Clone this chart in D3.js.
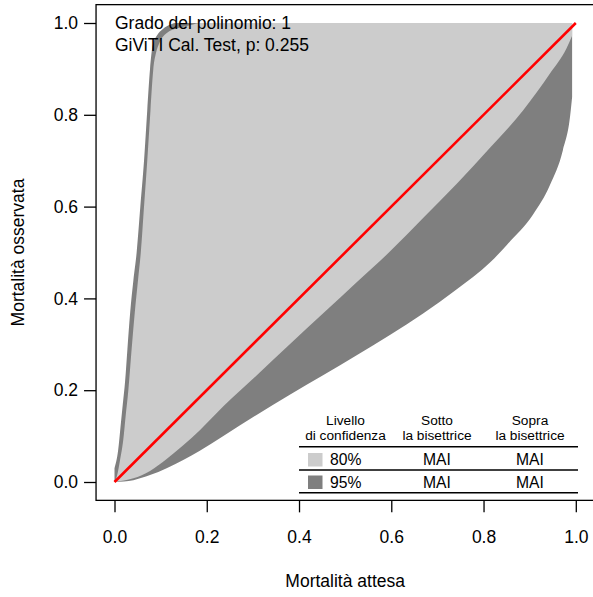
<!DOCTYPE html>
<html><head><meta charset="utf-8">
<script src="https://cdn.jsdelivr.net/npm/d3@7"></script>
<style>
body{margin:0;background:#fff}
text{font-family:"Liberation Sans",Arial,Helvetica,sans-serif;fill:#000}
</style></head>
<body><svg id="c" width="593" height="597"></svg>
<script>
// ---- data ----
const xTicks = [0, 0.2, 0.4, 0.6, 0.8, 1.0];
const yTicks = [0, 0.2, 0.4, 0.6, 0.8, 1.0];
const upper95 = [[0,0.03],[0.008,0.07],[0.013,0.12],[0.018,0.17],[0.023,0.22],[0.028,0.29],[0.034,0.37],[0.041,0.44],[0.048,0.50],[0.056,0.60],[0.064,0.70],[0.071,0.81],[0.077,0.90],[0.083,0.952],[0.092,0.973],[0.105,0.987],[0.12,0.996],[0.131,1.0],[0.992,1.0]];
const lower95 = [[0,0],[0.041,0.004],[0.077,0.015],[0.113,0.030],[0.149,0.048],[0.185,0.068],[0.236,0.100],[0.308,0.146],[0.380,0.190],[0.453,0.233],[0.525,0.276],[0.597,0.320],[0.669,0.367],[0.742,0.420],[0.814,0.478],[0.850,0.516],[0.907,0.582],[0.944,0.647],[0.972,0.723],[0.988,0.800],[0.992,0.839]];
const upper80 = [[0,0],[0.005,0.012],[0.012,0.048],[0.019,0.092],[0.024,0.142],[0.030,0.20],[0.037,0.288],[0.044,0.37],[0.051,0.44],[0.057,0.50],[0.064,0.60],[0.071,0.70],[0.078,0.81],[0.084,0.898],[0.090,0.935],[0.097,0.956],[0.112,0.977],[0.142,0.99],[0.170,0.997],[0.185,1.0],[0.992,1.0]];
const lower80 = [[0,0],[0.041,0.008],[0.077,0.024],[0.113,0.050],[0.149,0.080],[0.185,0.113],[0.236,0.165],[0.308,0.232],[0.380,0.300],[0.453,0.368],[0.525,0.435],[0.597,0.502],[0.669,0.575],[0.742,0.650],[0.814,0.728],[0.886,0.810],[0.944,0.890],[0.980,0.945],[0.992,0.972]];
const bisector = [[0,0],[1,1]];
const annotations = ["Grado del polinomio: 1", "GiViTI Cal. Test, p: 0.255"];
const tableHeader = [["Livello","di confidenza"],["Sotto","la bisettrice"],["Sopra","la bisettrice"]];
const tableLevels = ["80%", "95%"];
const tableBelow = ["MAI", "MAI"];
const tableAbove = ["MAI", "MAI"];
const xLabel = "Mortalità attesa";
const yLabel = "Mortalità osservata";

// ---- layout ----
const svg = d3.select("#c");
const x = d3.scaleLinear().domain([0,1]).range([114.5, 575.8]);
const y = d3.scaleLinear().domain([0,1]).range([482, 23]);
const bx0 = x(-0.04), bx1 = x(1.04), by0 = y(-0.04), by1 = y(1.04);
const light = "#CCCCCC", dark = "#7F7F7F";

svg.append("defs").append("clipPath").attr("id","clip")
  .append("rect").attr("x",bx0).attr("y",by1).attr("width",bx1-bx0).attr("height",by0-by1);

const line = d3.line().x(d=>x(d[0])).y(d=>y(d[1])).curve(d3.curveMonotoneX);
function band(up, lo){
  return line(up) + line(lo.slice().reverse()).replace(/^M/,"L") + "Z";
}
const g = svg.append("g").attr("clip-path","url(#clip)");
g.append("path").attr("d", band(upper95, lower95)).attr("fill", dark);
g.append("path").attr("d", band(upper80, lower80)).attr("fill", light);
g.append("path").attr("d", d3.line().x(d=>x(d[0])).y(d=>y(d[1]))(bisector))
  .attr("stroke","#FF0000").attr("stroke-width",2.6).attr("fill","none");

// axes
const fs = 17.5;
const xa = svg.append("g").attr("transform",`translate(0,${by0})`)
  .call(d3.axisBottom(x).tickValues(xTicks).tickFormat(d3.format(".1f")).tickSize(12).tickPadding(18));
const ya = svg.append("g").attr("transform",`translate(${bx0},0)`)
  .call(d3.axisLeft(y).tickValues(yTicks).tickFormat(d3.format(".1f")).tickSize(12).tickPadding(6));
[xa, ya].forEach(a=>{
  a.select(".domain").remove();
  a.selectAll("line").attr("stroke","#000").attr("stroke-width",1.3);
  a.selectAll("text").attr("font-size",fs).attr("font-family",null).style("fill","#000");
});
svg.append("rect").attr("x",bx0).attr("y",by1).attr("width",bx1-bx0).attr("height",by0-by1)
  .attr("fill","none").attr("stroke","#000").attr("stroke-width",1.3);

// axis titles
svg.append("text").attr("x",(x(0)+x(1))/2).attr("y",587).attr("text-anchor","middle")
  .attr("font-size",fs).text(xLabel);
svg.append("text").attr("transform",`translate(24,${(y(0)+y(1))/2}) rotate(-90)`)
  .attr("text-anchor","middle").attr("font-size",fs).text(yLabel);

// annotations
annotations.forEach((t,i)=>{
  svg.append("text").attr("x",115).attr("y",28.5+i*22).attr("font-size",fs).text(t);
});

// table
const colX = [345.5, 437, 530];
const hfs = 13.7, bfs = 15.7;
tableHeader.forEach((h,i)=>{
  h.forEach((t,j)=>{
    svg.append("text").attr("x",colX[i]).attr("y",425+j*14.5).attr("text-anchor","middle")
      .attr("font-size",hfs).text(t);
  });
});
const rules = [446.8, 470, 492.7];
rules.forEach(ry=>{
  svg.append("line").attr("x1",299).attr("x2",578).attr("y1",ry).attr("y2",ry)
    .attr("stroke","#000").attr("stroke-width",1.6);
});
const rowBase = [465, 487.5];
const swatch = [light, dark];
tableLevels.forEach((lv,i)=>{
  svg.append("rect").attr("x",308).attr("y",rowBase[i]-12).attr("width",14.5).attr("height",13.5)
    .attr("fill",swatch[i]);
  svg.append("text").attr("x",330).attr("y",rowBase[i]).attr("font-size",bfs).text(lv);
  svg.append("text").attr("x",colX[1]).attr("y",rowBase[i]).attr("text-anchor","middle").attr("font-size",bfs).text(tableBelow[i]);
  svg.append("text").attr("x",colX[2]).attr("y",rowBase[i]).attr("text-anchor","middle").attr("font-size",bfs).text(tableAbove[i]);
});
</script></body></html>
